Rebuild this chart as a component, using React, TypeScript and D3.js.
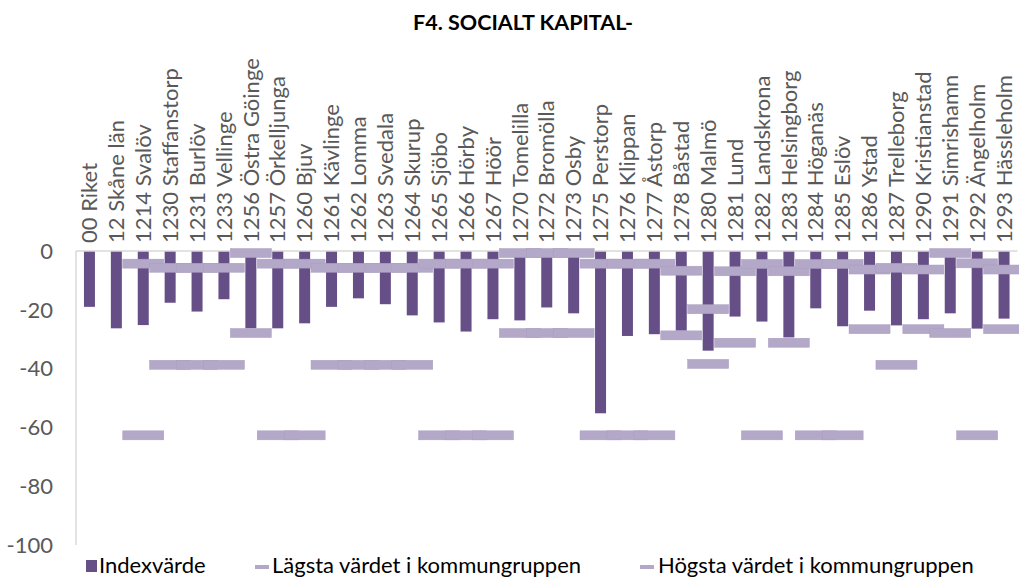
import React from "react";
import * as d3 from "d3";

const categories = [
  "00 Riket", "12 Skåne län", "1214 Svalöv", "1230 Staffanstorp", "1231 Burlöv",
  "1233 Vellinge", "1256 Östra Göinge", "1257 Örkelljunga", "1260 Bjuv", "1261 Kävlinge",
  "1262 Lomma", "1263 Svedala", "1264 Skurup", "1265 Sjöbo", "1266 Hörby",
  "1267 Höör", "1270 Tomelilla", "1272 Bromölla", "1273 Osby", "1275 Perstorp",
  "1276 Klippan", "1277 Åstorp", "1278 Båstad", "1280 Malmö", "1281 Lund",
  "1282 Landskrona", "1283 Helsingborg", "1284 Höganäs", "1285 Eslöv", "1286 Ystad",
  "1287 Trelleborg", "1290 Kristianstad", "1291 Simrishamn", "1292 Ängelholm", "1293 Hässleholm",
];

const indexValues = [
  -19.0, -26.3, -25.2, -17.6, -20.6, -16.4, -26.3, -26.3, -24.6, -19.0,
  -16.1, -18.1, -21.9, -24.3, -27.4, -23.2, -23.6, -19.2, -21.2, -55.2,
  -28.9, -28.3, -27.1, -33.9, -22.3, -24.0, -29.4, -19.5, -25.6, -20.3,
  -25.3, -23.2, -21.2, -26.4, -23.0,
];

const lowestValues: (number | null)[] = [
  null, null, -62.7, -38.7, -38.7, -38.7, -27.9, -62.7, -62.7, -38.7,
  -38.7, -38.7, -38.7, -62.7, -62.7, -62.7, -27.9, -27.9, -27.9, -62.7,
  -62.7, -62.7, -28.7, -38.4, -31.2, -62.7, -31.2, -62.7, -62.7, -26.6,
  -38.7, -26.6, -27.9, -62.7, -26.6,
];

const highestValues: (number | null)[] = [
  null, null, -4.3, -5.7, -5.7, -5.7, -0.7, -4.3, -4.3, -5.7,
  -5.7, -5.7, -5.7, -4.3, -4.3, -4.3, -0.7, -0.7, -0.7, -4.3,
  -4.3, -4.3, -6.7, -19.8, -6.9, -4.4, -6.9, -4.4, -4.4, -6.3,
  -5.7, -6.3, -0.7, -4.2, -6.3,
];

const yTicks = [0, -20, -40, -60, -80, -100];

const title = "F4. SOCIALT KAPITAL-";
const seriesNames = ["Indexvärde", "Lägsta värdet i kommungruppen", "Högsta värdet i kommungruppen"];

const W = 1019;
const H = 577;
const font = "Lato, 'Open Sans', sans-serif";
const barColor = "#664f87";
const dashColor = "#b4a8c8";
const textGray = "#595959";

export default function App() {
  const x = d3.scaleBand<string>().domain(categories).range([76, 1017.5]).padding(0);
  const y = d3.scaleLinear().domain([-100, 0]).range([545, 251]);
  const barW = 11;
  const dashW = 41;
  const dashH = 9;
  const cx = (c: string) => (x(c) as number) + x.bandwidth() / 2;

  const markers = (vals: (number | null)[], key: string) =>
    vals.map((v, i) =>
      v == null ? null : (
        <rect
          key={key + i}
          x={cx(categories[i]) - dashW / 2}
          y={y(v) - dashH / 2}
          width={dashW}
          height={dashH}
          fill={dashColor}
          stroke="#aa9dc0"
          strokeWidth={0.5}
        />
      )
    );

  return (
    <svg width={W} height={H} style={{ position: "absolute", left: 0, top: 0, background: "#fff" }}>
      <text x={523} y={30} textAnchor="middle" fontFamily={font} fontWeight="bold" fontSize={21.5} fill="#000">
        {title}
      </text>

      {/* y axis labels */}
      {yTicks.map((t) => (
        <text key={t} x={53} y={y(t)} dy="0.35em" textAnchor="end" fontFamily={font} fontSize={22} fill={textGray}>
          {t}
        </text>
      ))}

      {/* category labels */}
      {categories.map((c) => (
        <text
          key={c}
          transform={`translate(${cx(c)},243) rotate(-90)`}
          dy="0.35em"
          textAnchor="start"
          fontFamily={font}
          fontSize={22}
          fill={textGray}
        >
          {c}
        </text>
      ))}

      {/* bars */}
      {indexValues.map((v, i) => (
        <rect
          key={"b" + i}
          x={cx(categories[i]) - barW / 2}
          y={y(0)}
          width={barW}
          height={y(v) - y(0)}
          fill={barColor}
        />
      ))}

      <line x1={76} x2={1017.5} y1={y(0)} y2={y(0)} stroke="#d9d9d9" strokeWidth={1.5} />
      <line x1={76} x2={76} y1={y(0)} y2={y(-100)} stroke="#d9d9d9" strokeWidth={1.5} />

      {markers(lowestValues, "lo")}
      {markers(highestValues, "hi")}

      {/* legend */}
      <rect x={86} y={560} width={11} height={12} fill={barColor} />
      <text x={99} y={573} fontFamily={font} fontSize={22} fill="#000">{seriesNames[0]}</text>
      <rect x={255} y={565} width={14} height={4} fill={dashColor} />
      <text x={272} y={573} fontFamily={font} fontSize={22} fill="#000">{seriesNames[1]}</text>
      <rect x={640} y={565} width={14} height={4} fill={dashColor} />
      <text x={658} y={573} fontFamily={font} fontSize={22} fill="#000">{seriesNames[2]}</text>
    </svg>
  );
}
